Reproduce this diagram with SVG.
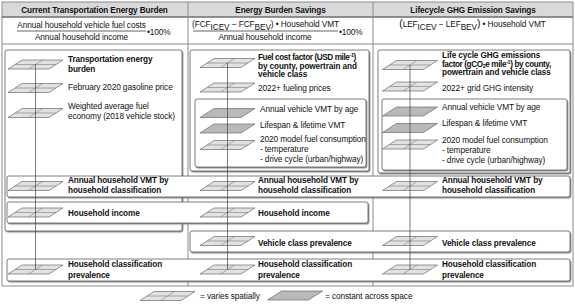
<svg xmlns="http://www.w3.org/2000/svg" width="575" height="305" viewBox="0 0 575 305">
<defs>
<style>
text{font-family:"Liberation Sans",Arial,sans-serif;font-size:8.3px;letter-spacing:-0.1px;fill:#111}
.b{font-weight:bold;font-size:8.2px}
.t{letter-spacing:-0.4px}
.h{font-weight:bold;font-size:8.2px;text-anchor:middle}
.m{text-anchor:middle}
.box{fill:#fff;stroke:#5a5a5a;stroke-width:0.8;filter:url(#sh)}
.grid{stroke:#8c8c8c;stroke-width:1;fill:none}
.pg{fill:#e2e2e2;stroke:#6a6a6a;stroke-width:0.7}
.pc{fill:#b9b9b9;stroke:#6a6a6a;stroke-width:0.7}
.gl{stroke:#7a7a7a;stroke-width:0.6;fill:none}
.con{stroke:#444;stroke-width:0.7;fill:none}
.sup{font-size:5.5px}
</style>
<filter id="sh" x="-5%" y="-20%" width="110%" height="140%">
<feDropShadow dx="1" dy="1.2" stdDeviation="0.5" flood-color="#777" flood-opacity="0.8"/>
</filter>
<g id="ig">
<polygon class="pg" points="-27.5,4.5 13.5,4.5 27.5,-4.5 -13.5,-4.5"/>
<path class="gl" d="M-20.5,0H20.5M-7,4.5L7,-4.5"/>
</g>
<g id="ic">
<polygon class="pc" points="-27.5,4.5 13.5,4.5 27.5,-4.5 -13.5,-4.5"/>
</g>
</defs>
<rect x="0" y="0" width="575" height="305" fill="#fff"/>

<g id="frame">
<rect x="2" y="2" width="571" height="15" fill="#d9d9d9"/>
<rect x="2" y="2" width="571" height="284" class="grid"/>
<line x1="2" y1="17" x2="573" y2="17" stroke="#6e6e6e" stroke-width="1.6"/>
<line x1="2" y1="44" x2="573" y2="44" class="grid"/>
<line x1="188" y1="2" x2="188" y2="286" class="grid"/>
<line x1="373" y1="2" x2="373" y2="286" class="grid"/>
<text class="h" x="94.5" y="13">Current Transportation Energy Burden</text>
<text class="h" x="280.5" y="13">Energy Burden Savings</text>
<text class="h" x="473" y="13">Lifecycle GHG Emission Savings</text>
</g>

<g id="formula-burden">
<text class="m" x="81.5" y="28">Annual household vehicle fuel costs</text>
<line x1="17" y1="31" x2="146" y2="31" stroke="#222" stroke-width="0.7"/>
<text class="m" x="81.5" y="40">Annual household income</text>
<text x="147" y="35">•100%</text>
</g>
<g id="formula-savings">
<text class="m" x="265.5" y="27">(FCF<tspan dy="2.5">ICEV</tspan><tspan dy="-2.5"> − FCF</tspan><tspan dy="2.5">BEV</tspan><tspan dy="-2.5">) • Household VMT</tspan></text>
<line x1="193" y1="31" x2="338" y2="31" stroke="#222" stroke-width="0.7"/>
<text class="m" x="265" y="40">Annual household income</text>
<text x="339" y="35">•100%</text>
</g>
<g id="formula-ghg">
<text class="m" x="472.5" y="27"><tspan font-size="10.5">(</tspan>LEF<tspan dy="2.5">ICEV</tspan><tspan dy="-2.5"> − LEF</tspan><tspan dy="2.5">BEV</tspan><tspan dy="-2.5" font-size="10.5">)</tspan> • Household VMT</text>
</g>

<g id="containers">
<rect class="box" x="5" y="50" width="177" height="181" rx="2"/>
<rect class="box" x="190" y="50" width="179" height="121" rx="2"/>
<rect class="box" x="195" y="99" width="171" height="68" rx="2"/>
<rect class="box" x="378" y="50" width="192" height="123" rx="2"/>
<rect class="box" x="382" y="99" width="185" height="71" rx="2"/>
</g>

<g id="n-transport-burden">
<use href="#ig" x="35.5" y="64.5"/>
<text class="b" x="68" y="62">Transportation energy</text>
<text class="b" x="68" y="71.5">burden</text>
</g>
<g id="n-gas-price">
<use href="#ig" x="35.5" y="88"/>
<text x="68" y="89.5">February 2020 gasoline price</text>
</g>
<g id="n-fuel-economy">
<use href="#ig" x="35.5" y="113"/>
<text x="68" y="109">Weighted average fuel</text>
<text x="68" y="118.5">economy (2018 vehicle stock)</text>
</g>

<g id="n-fuel-cost-factor">
<use href="#ig" x="227.5" y="63"/>
<text class="b t" x="258" y="59.5">Fuel cost factor (USD mile<tspan class="sup" dy="-3">-1</tspan><tspan dy="3">)</tspan></text>
<text class="b" x="258" y="68.5">by county, powertrain and</text>
<text class="b" x="258" y="77">vehicle class</text>
</g>
<g id="n-fueling-prices">
<use href="#ig" x="227.5" y="87.5"/>
<text x="258" y="90.5">2022+ fueling prices</text>
</g>
<g id="n-vmt-age-2">
<use href="#ic" x="227.5" y="113"/>
<text x="260" y="112">Annual vehicle VMT by age</text>
</g>
<g id="n-lifespan-2">
<use href="#ic" x="227.5" y="128.5"/>
<text x="260" y="127.5">Lifespan &amp; lifetime VMT</text>
</g>
<g id="n-fuel-cons-2">
<use href="#ig" x="227.5" y="145"/>
<text x="260" y="142">2020 model fuel consumption</text>
<text x="260" y="152">- temperature</text>
<text x="260" y="161.5">- drive cycle (urban/highway)</text>
</g>

<g id="n-lcghg-factor">
<use href="#ig" x="410" y="65"/>
<text class="b" x="442" y="58">Life cycle GHG emissions</text>
<text class="b t" x="442" y="66.5">factor (gCO<tspan class="sup" dy="1.5">2</tspan><tspan dy="-1.5">e mile</tspan><tspan class="sup" dy="-3">-1</tspan><tspan dy="3">) by county,</tspan></text>
<text class="b" x="442" y="75">powertrain and vehicle class</text>
</g>
<g id="n-grid-intensity">
<use href="#ig" x="410" y="86.5"/>
<text x="442" y="90.5">2022+ grid GHG intensity</text>
</g>
<g id="n-vmt-age-3">
<use href="#ic" x="410" y="111.5"/>
<text x="442" y="109.5">Annual vehicle VMT by age</text>
</g>
<g id="n-lifespan-3">
<use href="#ic" x="410" y="128"/>
<text x="442" y="126">Lifespan &amp; lifetime VMT</text>
</g>
<g id="n-fuel-cons-3">
<use href="#ig" x="410" y="144.5"/>
<text x="442" y="143">2020 model fuel consumption</text>
<text x="442" y="153">- temperature</text>
<text x="442" y="162.5">- drive cycle (urban/highway)</text>
</g>

<g id="n-household-vmt">
<rect class="box" x="7" y="176" width="563" height="21" rx="2"/>
<use href="#ig" x="35.5" y="186"/>
<use href="#ig" x="227.5" y="186"/>
<use href="#ig" x="410" y="186"/>
<text class="b" x="68" y="183">Annual household VMT by</text>
<text class="b" x="68" y="192.5">household classification</text>
<text class="b" x="258" y="183">Annual household VMT by</text>
<text class="b" x="258" y="192.5">household classification</text>
<text class="b" x="442" y="183">Annual household VMT by</text>
<text class="b" x="442" y="192.5">household classification</text>
</g>
<g id="n-household-income">
<rect class="box" x="7" y="202" width="361" height="21" rx="2"/>
<use href="#ig" x="35.5" y="212.5"/>
<use href="#ig" x="227.5" y="212.5"/>
<text class="b" x="68" y="216">Household income</text>
<text class="b" x="258" y="216">Household income</text>
</g>
<g id="n-vehicle-class">
<rect class="box" x="190" y="231" width="380" height="21" rx="2"/>
<use href="#ig" x="227.5" y="241"/>
<use href="#ig" x="410" y="241"/>
<text class="b" x="258" y="245.5">Vehicle class prevalence</text>
<text class="b" x="442" y="245.5">Vehicle class prevalence</text>
</g>
<g id="n-household-class">
<rect class="box" x="7" y="259" width="563" height="22" rx="2"/>
<use href="#ig" x="35.5" y="269.5"/>
<use href="#ig" x="227.5" y="269.5"/>
<use href="#ig" x="410" y="269.5"/>
<text class="b" x="68" y="267">Household classification</text>
<text class="b" x="68" y="277.5">prevalence</text>
<text class="b" x="258" y="267">Household classification</text>
<text class="b" x="258" y="277.5">prevalence</text>
<text class="b" x="442" y="267">Household classification</text>
<text class="b" x="442" y="277.5">prevalence</text>
</g>

<g id="connectors">
<line class="con" x1="35.5" y1="64.5" x2="35.5" y2="269.5"/>
<line class="con" x1="227.5" y1="63" x2="227.5" y2="269.5"/>
<line class="con" x1="410" y1="65" x2="410" y2="269.5"/>
</g>

<g id="legend">
<use href="#ig" x="167.5" y="296"/>
<text x="200" y="298.5">= varies spatially</text>
<use href="#ic" x="295" y="295.5"/>
<text x="325" y="298.5">= constant across space</text>
</g>
</svg>
